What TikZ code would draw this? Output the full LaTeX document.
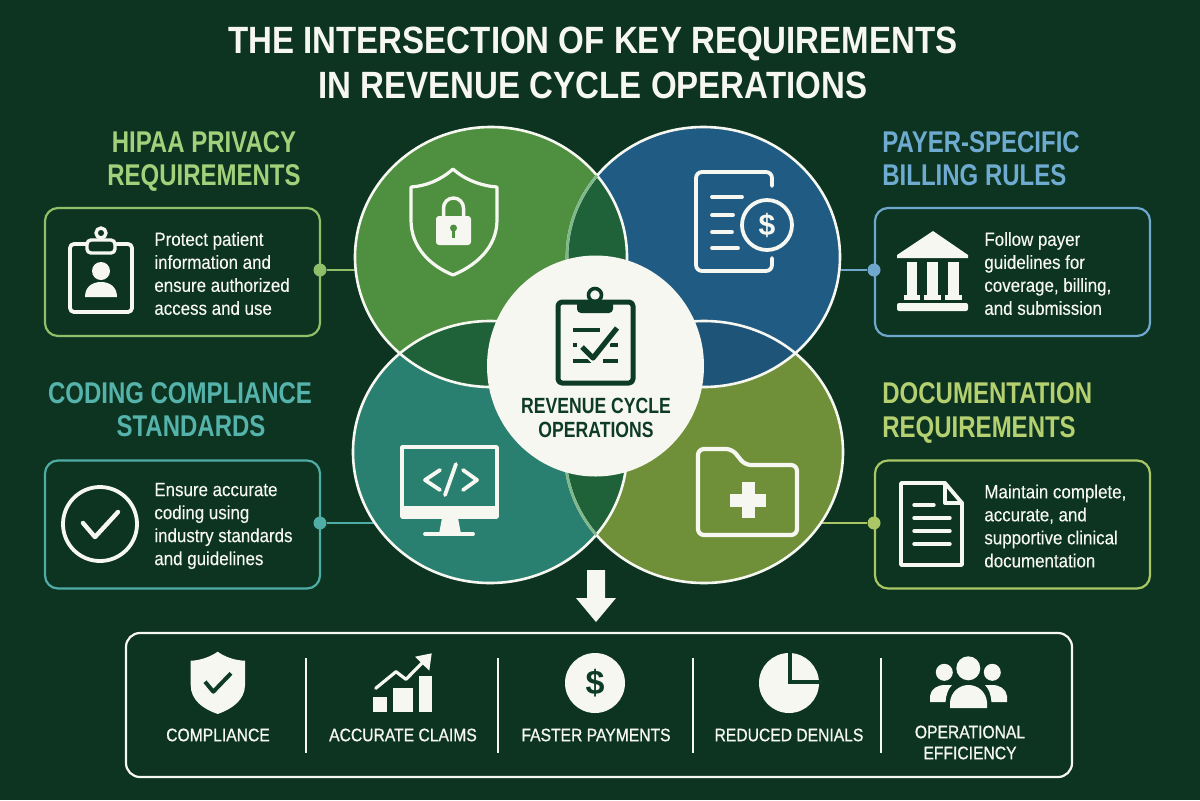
\documentclass[tikz,border=0pt]{standalone}
\usepackage{fontspec}
\setmainfont{Liberation Sans}
\newfontfamily\bodyfont[FakeStretch=0.89,FakeBold=0.2]{Liberation Sans}
\newfontfamily\headfont[FakeStretch=0.80]{Liberation Sans}
\newfontfamily\titlefont[FakeStretch=0.87]{Liberation Sans}
\newfontfamily\labelfont[FakeStretch=0.87,FakeBold=0.9]{Liberation Sans}
\usetikzlibrary{shapes.geometric}

\definecolor{groundColor}{HTML}{0C3420}
\definecolor{paperColor}{HTML}{F7F7F2}
\definecolor{inkColor}{HTML}{0D3B25}
\definecolor{hipaaFill}{HTML}{4F8F40}
\definecolor{payerFill}{HTML}{1F5B82}
\definecolor{codingFill}{HTML}{2A8070}
\definecolor{docFill}{HTML}{6F8F38}
\definecolor{lensGreen}{HTML}{1F6138}
\definecolor{lensBlue}{HTML}{1D5478}
\definecolor{lensEdge}{HTML}{7FB98A}
\definecolor{hipaaLine}{HTML}{8FBF68}
\definecolor{payerLine}{HTML}{6FA8CC}
\definecolor{codingLine}{HTML}{4FADA6}
\definecolor{docLine}{HTML}{AAC665}
\definecolor{hipaaHeadColor}{HTML}{A3D07A}
\definecolor{payerHeadColor}{HTML}{6FABD0}
\definecolor{codingHeadColor}{HTML}{55B3AC}
\definecolor{docHeadColor}{HTML}{B5D070}

\pgfdeclarelayer{ground}
\pgfdeclarelayer{links}
\pgfsetlayers{ground,links,main}

\begin{document}
\begin{tikzpicture}[x=0.5pt,y=-0.5pt]

      % Styles for the boxes, the texts and the icons
      \tikzstyle{bubble}=[ellipse,inner sep=0,outer sep=0,draw=none]
      \tikzstyle{infoBox}=[rectangle,rounded corners=6.5pt,line width=1.1pt,minimum width=137.5pt,minimum height=64pt,fill=groundColor]
      \tikzstyle{dot}=[circle,inner sep=0,minimum size=6.5pt]
      \tikzstyle{headText}=[font=\headfont\bfseries\fontsize{15}{16.75}\selectfont,inner sep=0]
      \tikzstyle{bodyText}=[font=\bodyfont\fontsize{9.5}{11.5}\selectfont,text=paperColor,align=left,anchor=west,inner sep=0]
      \tikzstyle{resultText}=[font=\labelfont\fontsize{9}{10.5}\selectfont,text=paperColor,align=center,inner sep=0]
      \tikzstyle{iconLine}=[draw=paperColor,line width=1.9pt,line cap=round,line join=round]
      \tikzstyle{inkLine}=[draw=inkColor,line width=2pt,line join=round]
      \tikzstyle{bubbleLine}=[draw=paperColor,line width=1.3pt]
      \tikzstyle{dividerLine}=[draw=paperColor,line width=0.6pt]

      % Shapes of the four overlapping circles
      \def\hipaaShape{(491,257) ellipse (136 and 130)}
      \def\payerShape{(703.5,257) ellipse (136.5 and 130)}
      \def\codingShape{(490,452) ellipse (137 and 131)}
      \def\docShape{(704,452) ellipse (139 and 131)}

      \begin{pgfonlayer}{ground}
        \fill [groundColor] (0,0) rectangle (1200,800);
      \end{pgfonlayer}
      \useasboundingbox (0,0) rectangle (1200,800);

      % Title
      \node [font=\titlefont\bfseries\fontsize{19}{22.5}\selectfont,text=paperColor,align=center,inner sep=0] (title) at (593,62.5) {THE INTERSECTION OF KEY REQUIREMENTS\\IN REVENUE CYCLE OPERATIONS};

      % The four circles
      \node [bubble,fill=hipaaFill,minimum width=136pt,minimum height=130pt] (hipaaCircle) at (491,257) {};
      \node [bubble,fill=payerFill,minimum width=136.5pt,minimum height=130pt] (payerCircle) at (703.5,257) {};
      \node [bubble,fill=codingFill,minimum width=137pt,minimum height=131pt] (codingCircle) at (490,452) {};
      \node [bubble,fill=docFill,minimum width=139pt,minimum height=131pt] (docCircle) at (704,452) {};

      % Overlaps between neighbouring circles
      \begin{scope}
        \clip \hipaaShape;
        \fill [lensGreen] \payerShape;
        \fill [lensGreen] \codingShape;
      \end{scope}
      \begin{scope}
        \clip \docShape;
        \fill [lensBlue] \payerShape;
        \fill [lensGreen] \codingShape;
      \end{scope}

      % Outlines, with the lighter arcs inside two of the overlaps
      \draw [bubbleLine] \hipaaShape;
      \draw [bubbleLine] \payerShape;
      \draw [bubbleLine] \codingShape;
      \draw [bubbleLine] \docShape;
      \begin{scope}
        \clip \hipaaShape;
        \draw [bubbleLine,draw=lensEdge] \payerShape;
      \end{scope}
      \begin{scope}
        \clip \codingShape;
        \draw [bubbleLine,draw=lensEdge] \docShape;
      \end{scope}

      % Centre circle
      \node [bubble,fill=paperColor,minimum width=108.5pt,minimum height=110.5pt] (centreCircle) at (595.5,366) {};
      \node [headText,text=inkColor,align=center,font=\headfont\bfseries\fontsize{11}{12}\selectfont] (centreText) at (596,418) {REVENUE CYCLE\\OPERATIONS};

      % Boxes with their headings and texts
      \node [infoBox,draw=hipaaLine] (hipaaBox) at (182.5,272) {};
      \node [infoBox,draw=codingLine] (codingBox) at (182.5,524.5) {};
      \node [infoBox,draw=payerLine] (payerBox) at (1012.5,272) {};
      \node [infoBox,draw=docLine] (docBox) at (1012.5,524.5) {};

      \node [headText,text=hipaaHeadColor,align=center] (hipaaHead) at (204,161.5) {HIPAA PRIVACY\\REQUIREMENTS};
      \node [headText,text=codingHeadColor,align=center] (codingHead) at (180,409.5) {CODING COMPLIANCE\\\hspace*{11pt}STANDARDS};
      \node [headText,text=payerHeadColor,align=left,anchor=west] (payerHead) at (882,158.5) {PAYER-SPECIFIC\\BILLING RULES};
      \node [headText,text=docHeadColor,align=left,anchor=west] (docHead) at (882,413) {DOCUMENTATION\\REQUIREMENTS};

      \node [bodyText] (hipaaText) at (154,273.5) {Protect patient\\information and\\ensure authorized\\access and use};
      \node [bodyText] (codingText) at (154,526) {Ensure accurate\\coding using\\industry standards\\and guidelines};
      \node [bodyText] (payerText) at (984,273.5) {Follow payer\\guidelines for\\coverage, billing,\\and submission};
      \node [bodyText] (docText) at (984,526) {Maintain complete,\\accurate, and\\supportive clinical\\documentation};

      % Dots on the boxes and the lines to the circles
      \node [dot,fill=hipaaLine] (hipaaDot) at (320,270) {};
      \node [dot,fill=codingLine] (codingDot) at (320,523) {};
      \node [dot,fill=payerLine] (payerDot) at (874,270) {};
      \node [dot,fill=docLine] (docDot) at (874,523) {};
      \begin{pgfonlayer}{links}
        \draw [hipaaLine,line width=1pt] (hipaaDot) -- (hipaaDot -| hipaaCircle.center);
        \draw [codingLine,line width=1pt] (codingDot) -- (codingDot -| codingCircle.center);
        \draw [payerLine,line width=1pt] (payerDot) -- (payerDot -| payerCircle.center);
        \draw [docLine,line width=1pt] (docDot) -- (docDot -| docCircle.center);
      \end{pgfonlayer}

      % Shield with padlock
      \draw [iconLine,line width=1.6pt] (453,169) .. controls (465,180) and (482,186) .. (497,187) -- (497,220) .. controls (497,248) and (475,266) .. (453,275) .. controls (431,266) and (411,248) .. (411,220) -- (411,187) .. controls (426,186) and (441,180) .. cycle;
      \fill [paperColor,rounded corners=1.5pt] (436,216) rectangle (471,245);
      \draw [iconLine,line width=1.75pt] (443.5,216) -- (443.5,208) arc (180:360:10) -- (463.5,216);
      \fill [hipaaFill] (453.5,228) circle [radius=3.5];
      \draw [hipaaFill,line width=1.2pt] (453.5,228) -- (453.5,238);

      % Invoice with dollar ring
      \draw [iconLine,rounded corners=3pt] (772,186) -- (772,172) -- (696,172) -- (696,271) -- (772,271) -- (772,258);
      \draw [iconLine] (712,197) -- (742,197);
      \draw [iconLine] (712,215) -- (733,215);
      \draw [iconLine] (712,232) -- (732,232);
      \draw [iconLine] (712,248) -- (738,248);
      \draw [iconLine] (767,225) circle [radius=25];
      \node [font=\bfseries\fontsize{15}{15}\selectfont,text=paperColor,inner sep=0] (invoiceDollar) at (767,225) {\$};

      % Monitor with code
      \draw [iconLine] (402,447) rectangle (497,517);
      \fill [paperColor] (402,506) rectangle (497,517);
      \fill [paperColor] (442,518) -- (458,518) -- (461,534) -- (439,534) -- cycle;
      \draw [iconLine] (425,534) -- (473,534);
      \draw [iconLine] (440,470) -- (425,480) -- (440,490);
      \draw [iconLine] (463,470) -- (477,480) -- (463,490);
      \draw [iconLine] (456,464) -- (445,495);

      % Folder with cross
      \draw [iconLine,line width=2.1pt,rounded corners=3pt] (698,449) -- (732,449) -- (745,465) -- (797,465) -- (797,535) -- (698,535) -- cycle;
      \draw [paperColor,line width=6.5pt] (748,482) -- (748,518);
      \draw [paperColor,line width=6.5pt] (730,500) -- (766,500);

      % Clipboard in the centre
      \draw [inkLine,rounded corners=2pt,line width=2.5pt] (558,302) rectangle (633,383);
      \fill [inkColor,rounded corners=2pt] (577,300) rectangle (613,313);
      \draw [inkLine,line width=1.8pt] (595,295) circle [radius=6.5];
      \draw [inkLine] (573,330) -- (600,330);
      \draw [inkLine] (573,345) -- (577,345);
      \draw [inkLine] (610,345) -- (618,345);
      \draw [inkLine] (573,361) -- (593,361);
      \draw [inkLine] (603,361) -- (618,361);
      \draw [draw=paperColor,line width=4.5pt] (582,347) -- (593,358) -- (617,328);
      \draw [inkLine,line width=2.6pt] (582,347) -- (593,358) -- (617,328);

      % Clipboard with person
      \draw [iconLine,rounded corners=2pt] (87,244) -- (70,244) -- (70,312) -- (132,312) -- (132,244) -- (115,244);
      \draw [iconLine,line width=1.7pt,rounded corners=2pt] (87,240) rectangle (115,253);
      \draw [iconLine,line width=1.7pt] (101,233) circle [radius=5];
      \fill [paperColor] (101,271) circle [radius=9];
      \fill [paperColor] (85,297) .. controls (85,287) and (92,282) .. (101,282) .. controls (110,282) and (117,287) .. (117,297) -- cycle;

      % Circle with check mark
      \draw [iconLine] (100,524) circle [radius=37];
      \draw [iconLine,line width=2.2pt] (83,523) -- (95,537) -- (118,512);

      % Bank building
      \fill [paperColor] (933,231) -- (968,255) -- (968,258) -- (897,258) -- (897,255) -- cycle;
      \fill [paperColor] (907,262) rectangle (917,300);
      \fill [paperColor] (927,262) rectangle (938,300);
      \fill [paperColor] (948,262) rectangle (959,300);
      \fill [paperColor] (904,295) rectangle (920,300);
      \fill [paperColor] (924,295) rectangle (941,300);
      \fill [paperColor] (945,295) rectangle (962,300);
      \fill [paperColor,rounded corners=1pt] (897,303) rectangle (968,311);

      % Page with lines
      \draw [iconLine,line width=1.9pt] (901,483) -- (945,483) -- (962,503) -- (962,565) -- (901,565) -- cycle;
      \draw [iconLine,line width=1.7pt] (945,483) -- (945,503) -- (962,503);
      \draw [iconLine,line width=1.7pt] (914,505) -- (934,505);
      \draw [iconLine,line width=1.7pt] (914,518) -- (950,518);
      \draw [iconLine,line width=1.7pt] (914,531) -- (950,531);
      \draw [iconLine,line width=1.7pt] (914,544) -- (950,544);

      % Arrow down to the results
      \fill [paperColor] (587,570) -- (605,570) -- (605,598) -- (616,598) -- (596,622) -- (576,598) -- (587,598) -- cycle;

      % Results box
      \node [rectangle,draw=paperColor,rounded corners=7pt,line width=1.1pt,minimum width=473pt,minimum height=72pt] (resultBox) at (599,705) {};
      \draw [dividerLine] (306,658) -- (306,753);
      \draw [dividerLine] (498,658) -- (498,753);
      \draw [dividerLine] (693,658) -- (693,753);
      \draw [dividerLine] (881,658) -- (881,753);

      \node [resultText] (compliance) at (218,735) {COMPLIANCE};
      \node [resultText] (accurateClaims) at (403,735) {ACCURATE CLAIMS};
      \node [resultText] (fasterPayments) at (596,735) {FASTER PAYMENTS};
      \node [resultText] (reducedDenials) at (789,735) {REDUCED DENIALS};
      \node [resultText] (efficiency) at (970,742.5) {OPERATIONAL\\EFFICIENCY};

      % Filled shield
      \fill [paperColor] (217.7,651.7) .. controls (225,657) and (235,660.5) .. (245,660.7) -- (245,685) .. controls (245,700) and (232,709) .. (217.7,714) .. controls (203,709) and (190.7,700) .. (190.7,685) -- (190.7,660.7) .. controls (200,660.5) and (210,657) .. cycle;
      \draw [inkLine] (205,681.7) -- (213.3,691.7) -- (231,673.3);

      % Bars with rising arrow
      \fill [paperColor] (373.3,697.3) rectangle (387.3,712.3);
      \fill [paperColor] (392.7,688) rectangle (412.7,712.3);
      \fill [paperColor] (419,676) rectangle (432.3,712.3);
      \draw [iconLine,line width=1.6pt] (375.7,688.3) -- (396,671.7) -- (406,679.3) -- (424,661);
      \fill [paperColor] (431.7,653.3) -- (429.3,670.7) -- (415,656.7) -- cycle;

      % Coin
      \fill [paperColor] (595,683) circle [radius=30];
      \node [font=\bfseries\fontsize{17}{17}\selectfont,text=inkColor,inner sep=0] (coinDollar) at (595,683) {\$};

      % Pie chart
      \fill [paperColor] (789,683) circle [radius=30];
      \draw [inkColor,line width=2pt] (789.7,650) -- (789.7,681.7) -- (822,681.7);

      % Three people
      \fill [paperColor] (968.3,668.3) circle [radius=12];
      \fill [paperColor] (944.3,672.3) circle [radius=8.5];
      \fill [paperColor] (992.3,672.3) circle [radius=8.5];
      \fill [paperColor] (950,708) -- (950,702) .. controls (951,692) and (959,685) .. (968.5,685) .. controls (978,685) and (986,692) .. (987,702) -- (987,708) -- cycle;
      \fill [paperColor] (930,702) -- (930,696) .. controls (931,689) and (937,685) .. (945,685) -- (952,685) .. controls (948,689) and (946,695) .. (945.5,702) -- cycle;
      \fill [paperColor] (1007,702) -- (1007,696) .. controls (1006,689) and (1000,685) .. (992,685) -- (985,685) .. controls (989,689) and (991,695) .. (991.5,702) -- cycle;

   \end{tikzpicture}
\end{document}
